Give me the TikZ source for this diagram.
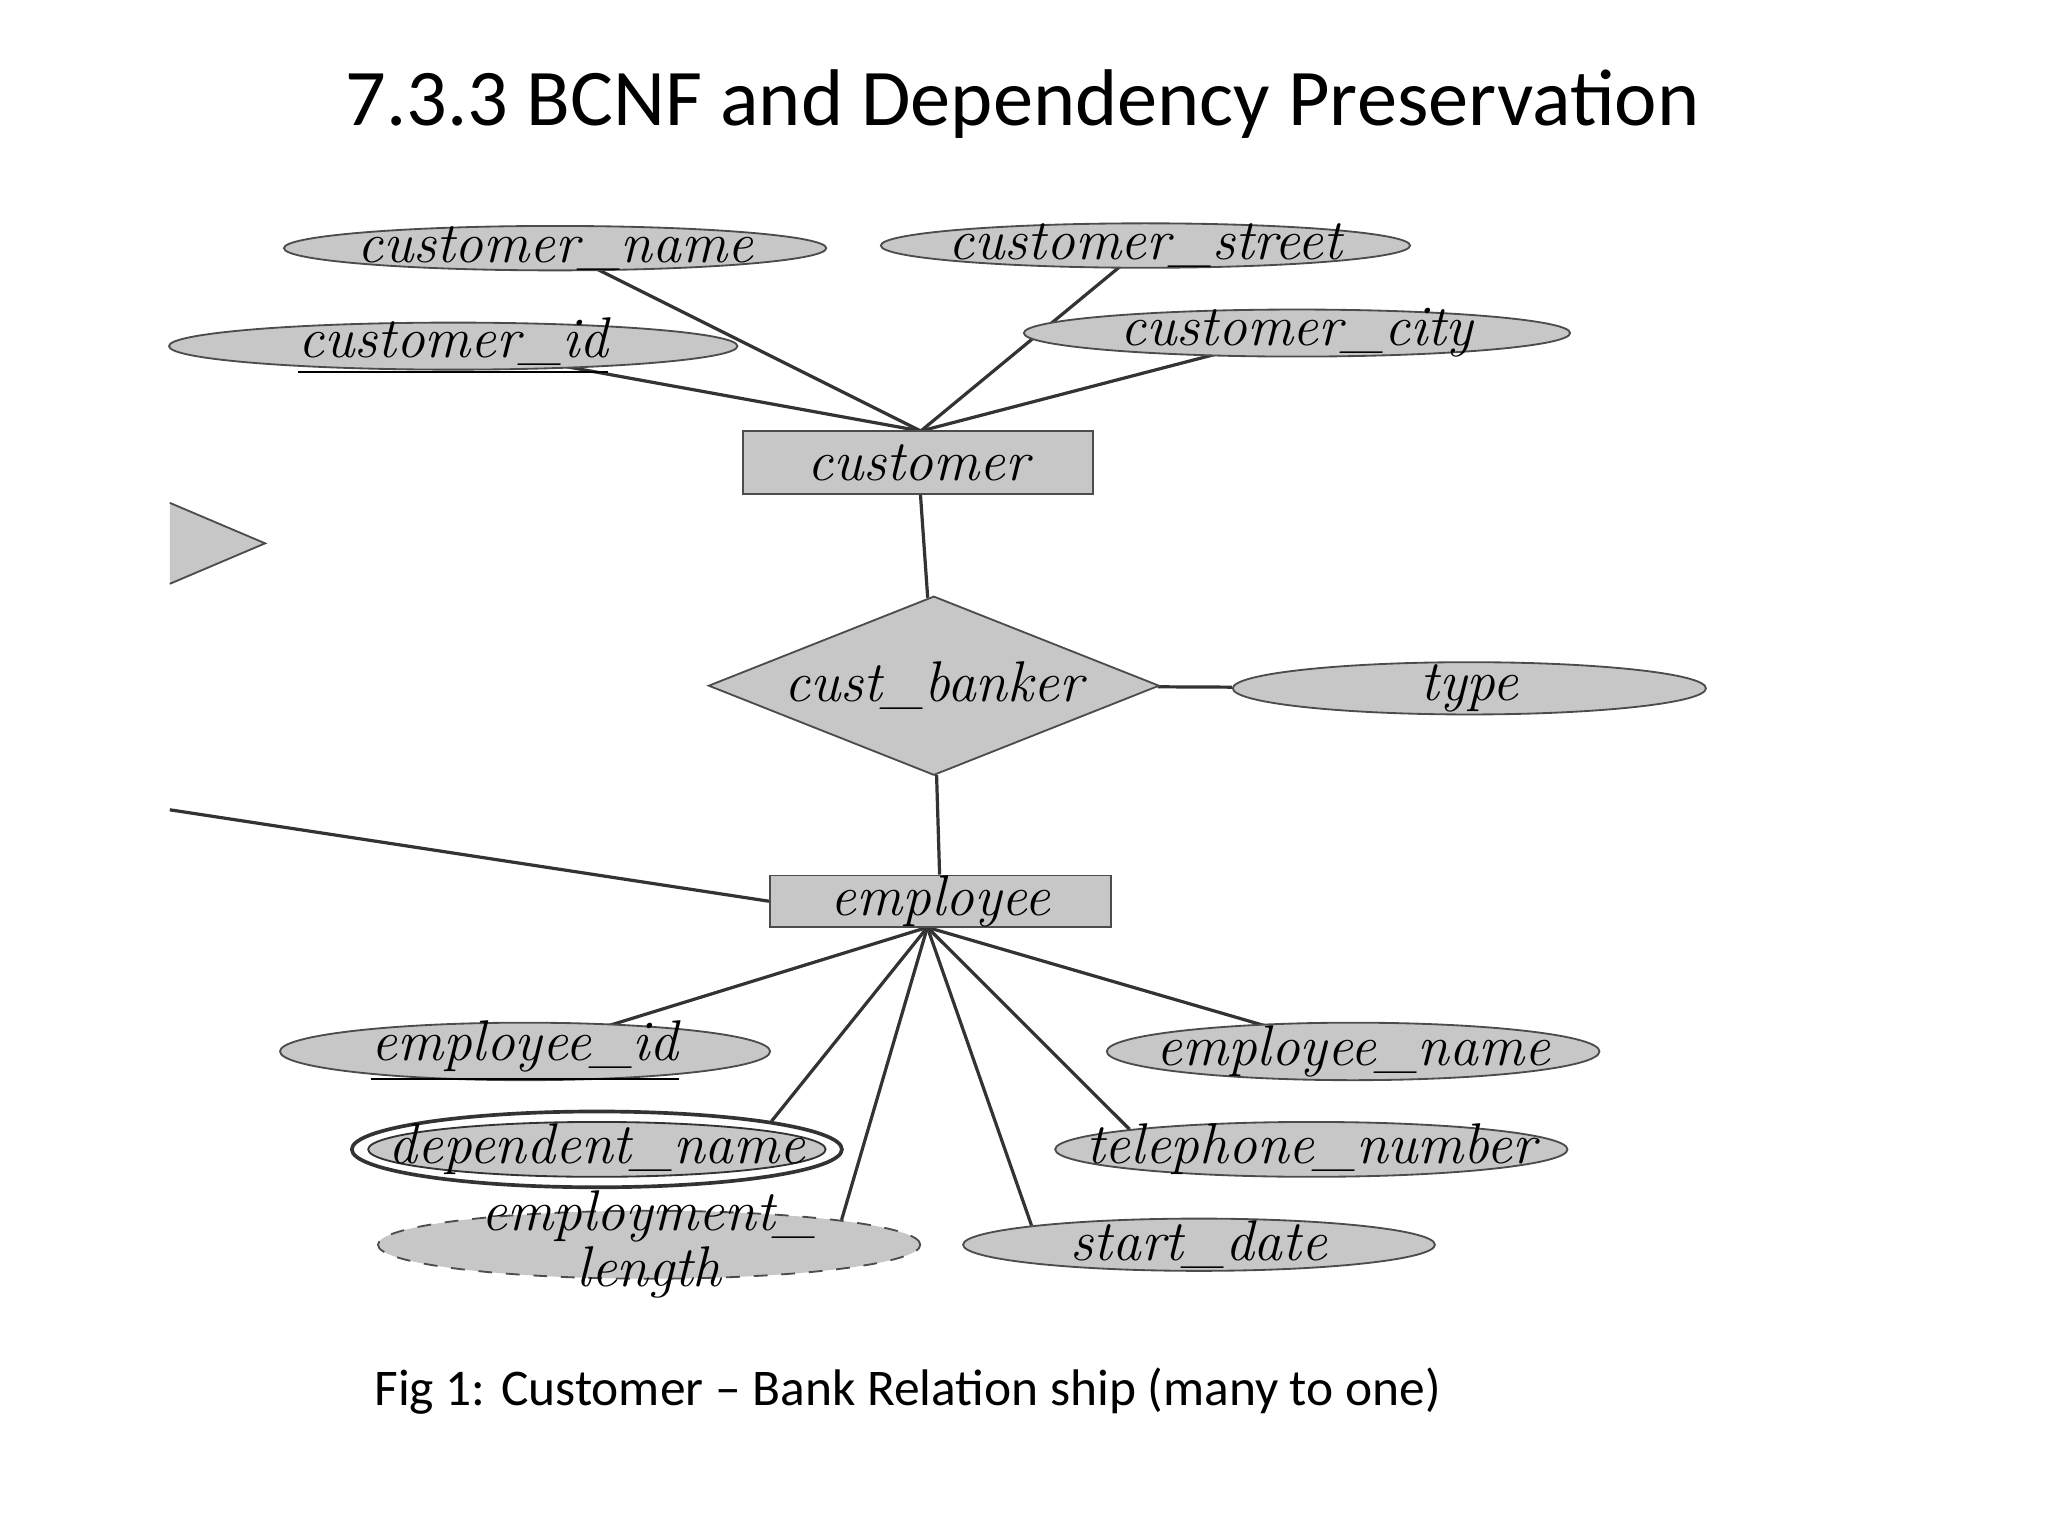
\documentclass[tikz,border=0pt]{standalone}
\usepackage{fontspec}
\setsansfont{Carlito}
\usetikzlibrary{shapes.geometric,backgrounds}
\begin{document}
\begin{tikzpicture}[x=0.01cm,y=-0.01cm,
  attr/.style={ellipse,draw=black!70,fill=black!22,inner sep=0pt},
  lbl/.style={inner sep=0pt,font=\fontsize{12.5}{11}\selectfont\itshape},
  ent/.style={rectangle,draw=black!70,fill=black!22,inner sep=0pt,font=\fontsize{12.5}{15}\selectfont\itshape},
  ln/.style={draw=black!80,line width=0.7pt}]
\useasboundingbox (0,0) rectangle (1568,1176);
\node[font=\sffamily\fontsize{17.5}{20}\selectfont] (title) at (783,80) {7.3.3 BCNF and Dependency Preservation};
\node[font=\sffamily\fontsize{11.2}{13}\selectfont] (cap) at (695,1065) {Fig 1: Customer -- Bank Relation ship (many to one)};

\node[attr,minimum width=4.15cm,minimum height=0.34cm] (cn) at (425,190) {};
\node[lbl] at (cn) {customer\_name};
\node[attr,minimum width=4.05cm,minimum height=0.34cm] (cs) at (877,188) {};
\node[lbl] at (cs) {customer\_street};
\node[attr,minimum width=4.35cm,minimum height=0.36cm] (ci) at (347,265) {};
\node[lbl] at (ci) {\underline{customer\_id}};
\node[attr,minimum width=4.18cm,minimum height=0.36cm] (cc) at (993,255) {};
\node[lbl] at (cc) {customer\_city};
\node[ent,minimum width=2.68cm,minimum height=0.48cm] (cu) at (703,354) {customer};
\coordinate (cut) at (705,330);

\filldraw[draw=black!70,fill=black!22] (130,385) -- (203,416) -- (130,447);

\node[diamond,draw=black!70,fill=black!22,minimum width=3.45cm,minimum height=1.37cm,inner sep=0pt] (cb) at (715,525) {};
\node[lbl] at (cb) {cust\_banker};
\node[attr,minimum width=3.62cm,minimum height=0.40cm] (ty) at (1125,527) {};
\node[lbl] at (ty) {type};
\node[ent,minimum width=2.61cm,minimum height=0.38cm] (em) at (720,690) {employee};
\coordinate (lf) at (130,620);

\node[attr,minimum width=3.75cm,minimum height=0.44cm] (eid) at (402,805) {};
\node[lbl] at (eid) {\underline{employee\_id}};
\node[attr,minimum width=3.77cm,minimum height=0.44cm] (en) at (1036,805) {};
\node[lbl] at (en) {employee\_name};
\node[ellipse,draw=black!80,fill=white,line width=0.8pt,minimum width=3.75cm,minimum height=0.58cm,inner sep=0pt] (dno) at (457,880) {};
\node[attr,draw=black!80,minimum width=3.5cm,minimum height=0.42cm] (dn) at (457,880) {};
\node[lbl] at (dn) {dependent\_name};
\node[attr,minimum width=3.92cm,minimum height=0.42cm] (tn) at (1004,880) {};
\node[lbl] at (tn) {telephone\_number};
\node[attr,dashed,minimum width=4.15cm,minimum height=0.52cm] (el) at (497,953) {};
\node[lbl,align=center,font=\fontsize{12.5}{9}\selectfont\itshape] at (el) {employment\_\\length};
\node[attr,minimum width=3.61cm,minimum height=0.40cm] (sd) at (918,953) {};
\node[lbl] at (sd) {start\_date};
\coordinate (eb) at (710,710);

\begin{pgfonlayer}{background}
\foreach \a in {cn,cs,ci,cc} \draw[ln] (\a.center) -- (cut);
\draw[ln] (cu) -- (cb);
\draw[ln] (cb) -- (em);
\draw[ln] (cb) -- (ty);
\draw[ln] (lf) -- (em.west);
\draw[ln] (eid.center) -- (eb);
\draw[ln] (en.center) -- (eb);
\draw[ln] (dno.north east) -- (eb);
\draw[ln] (el.north east) -- (eb);
\draw[ln] (tn.north west) -- (eb);
\draw[ln] (sd.north west) -- (eb);
\end{pgfonlayer}
\end{tikzpicture}
\end{document}
